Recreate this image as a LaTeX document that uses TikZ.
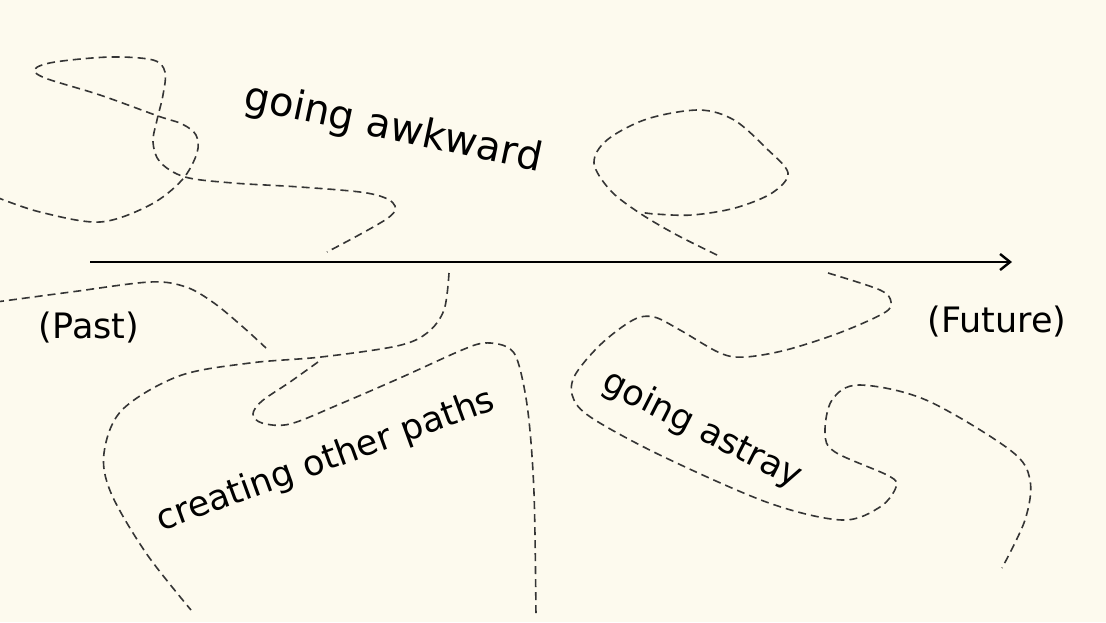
\documentclass[tikz,border=0pt]{standalone}
\usepackage{fontspec}
\setmainfont{DejaVu Sans}
\usetikzlibrary{arrows.meta}
\definecolor{bgcream}{HTML}{FDFAEE}
\definecolor{dashgray}{HTML}{353535}
\tikzset{
  wander/.style={draw=dashgray, line width=1.6pt, dash pattern=on 8pt off 5pt},
  timeline/.style={draw=black, line width=2.4pt, -{Straight Barb[length=10pt,width=16pt,line width=2.4pt]}},
  label/.style={inner sep=0pt, font=\fontsize{35}{40}\selectfont},
  biglabel/.style={inner sep=0pt, font=\fontsize{40}{45}\selectfont}
}
\begin{document}
\begin{tikzpicture}[x=1pt,y=-1pt]
\fill[bgcream] (0,0) rectangle (1106,622);
\useasboundingbox (0,0) rectangle (1106,622);

% timeline
\coordinate (past) at (90,262);
\coordinate (future) at (1012,262);
\draw[timeline] (past) -- (future);

% going awkward curve
\draw[wander] plot[smooth, tension=0.55] coordinates {
 (-4,197) (40,212) (100,222) (150,205) (182,180) (197,153) (196,135) (182,124) (158,116)
 (100,95) (45,78) (35,69) (55,62) (110,57) (153,60) (165,72) (163,95) (157,120)
 (153,142) (160,162) (185,177) (233,183) (300,187) (367,193) (393,203) (388,218) (327,252)};

% top right loop
\draw[wander] plot[smooth, tension=0.55] coordinates {
 (717,255) (675,234) (638,212) (610,190) (594,163) (607,140) (647,119) (699,110)
 (734,120) (766,148) (788,173) (772,193) (735,208) (692,215) (655,214) (640,212)};

% left strand
\draw[wander] plot[smooth, tension=0.55] coordinates {
 (-4,302) (71,292) (150,282) (186,287) (214,303) (243,327) (266,348)};

% creating other paths main curve
\draw[wander] plot[smooth, tension=0.55] coordinates {
 (449,273) (444,310) (427,333) (397,346) (321,357) (250,363) (179,376) (122,410)
 (104,453) (111,493) (146,553) (191,610)};

% branch
\draw[wander] plot[smooth, tension=0.55] coordinates {
 (318,362) (290,382) (262,401) (253,414) (262,423) (290,424) (340,404) (400,378)
 (462,350) (485,343) (507,347) (518,362) (528,412) (534,493) (536,617)};

% going astray curve
\draw[wander] plot[smooth, tension=0.55] coordinates {
 (828,273) (880,290) (891,302) (884,313) (839,333) (786,350) (745,357) (720,353)
 (680,330) (654,317) (633,320) (600,345) (574,377) (574,400) (595,420) (664,457)
 (769,503) (842,520) (880,507) (896,487) (889,476) (835,452) (825,433) (832,400)
 (859,385) (926,400) (1010,450) (1030,480) (1025,520) (1002,568)};

% labels
\node[biglabel, rotate=-12] (awk) at (393,129) {going awkward};
\node[label] (pastlbl) at (89,328) {(Past)};
\node[label] (futlbl) at (997,322) {(Future)};
\node[label, rotate=20] (other) at (326,461) {creating other paths};
\node[label, rotate=-27] (astray) at (702,430) {going astray};
\end{tikzpicture}
\end{document}
